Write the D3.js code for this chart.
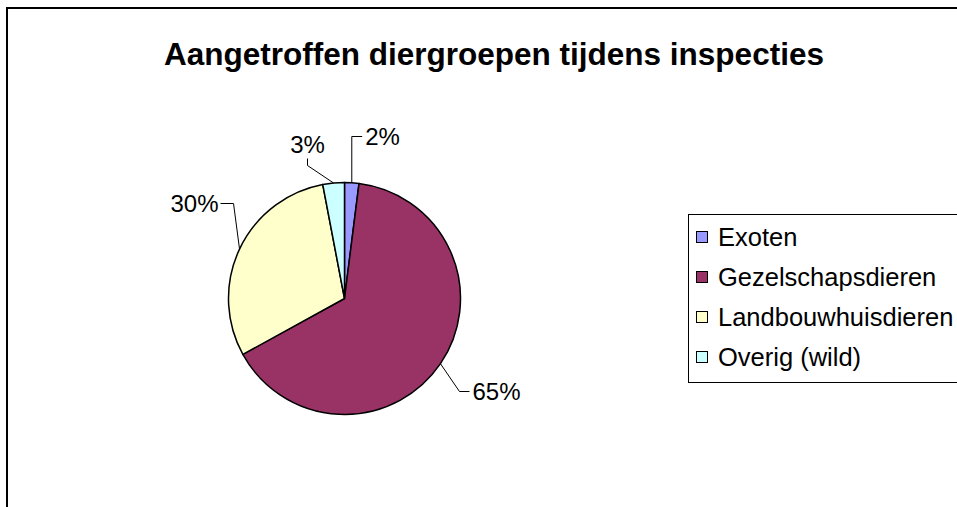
<!DOCTYPE html>
<html>
<head>
<meta charset="utf-8">
<script src="https://cdn.jsdelivr.net/npm/d3@7"></script>
<style>
  html, body { margin: 0; padding: 0; background: #fff; }
  svg text { font-family: "Liberation Sans", Arial, sans-serif; }
</style>
</head>
<body>
<div id="chart-area"></div>
<script>
// chart data
const title = "Aangetroffen diergroepen tijdens inspecties";
const categories = ["Exoten", "Gezelschapsdieren", "Landbouwhuisdieren", "Overig (wild)"];
const shares = [2, 65, 30, 3];
const colors = ["#9999FF", "#993366", "#FFFFCC", "#CCFFFF"];

// where Excel put each data label (offset from pie centre) and where the leader attaches
const labelLayout = [
    { dx: 38, dy: -162, attach: "left" },
    { dx: 152, dy: 93, attach: "left" },
    { dx: -150, dy: -95, attach: "right" },
    { dx: -37, dy: -154, attach: "bottom" }
];

const width = 957,
    height = 507,
    cx = 344.5,
    cy = 298.5,
    radius = 116;

const svg = d3.select("#chart-area")
    .append("svg")
    .attr("width", width)
    .attr("height", height);

// chart frame (right and bottom edges run off the page)
svg.append("rect")
    .attr("x", 7)
    .attr("y", 8)
    .attr("width", width + 20)
    .attr("height", height + 20)
    .attr("fill", "#fff")
    .attr("stroke", "#000")
    .attr("stroke-width", 2);

svg.append("text")
    .attr("x", 494)
    .attr("y", 65)
    .attr("text-anchor", "middle")
    .attr("font-size", 31.5)
    .attr("font-weight", "bold")
    .text(title);

const data = categories.map((c, i) => ({ name: c, value: shares[i], color: colors[i], i }));

const pie = d3.pie().sort(null).value(d => d.value);
const arcs = pie(data);
const arc = d3.arc().innerRadius(0).outerRadius(radius);
const pct = d3.format(".0%");
const total = d3.sum(shares);

const g = svg.append("g").attr("transform", `translate(${cx},${cy})`);

g.selectAll("path")
    .data(arcs)
    .join("path")
    .attr("d", arc)
    .attr("fill", d => d.data.color)
    .attr("stroke", "#000")
    .attr("stroke-width", 1.5)
    .attr("stroke-linejoin", "round");

const fontSize = 24;
const labels = g.selectAll("g.lbl")
    .data(arcs)
    .join("g")
    .attr("class", "lbl");

labels.each(function(d) {
    const lay = labelLayout[d.data.i];
    const txt = pct(d.data.value / total);
    const sel = d3.select(this);
    const t = sel.append("text")
        .attr("x", lay.dx)
        .attr("y", lay.dy)
        .attr("text-anchor", "middle")
        .attr("dominant-baseline", "central")
        .attr("font-size", fontSize)
        .text(txt);
    const w = t.node().getComputedTextLength();

    const mid = (d.startAngle + d.endAngle) / 2;
    const edge = [radius * Math.sin(mid), -radius * Math.cos(mid)];
    let end, elbow;
    if (lay.attach === "left") {
        end = [lay.dx - w / 2 - 3, lay.dy];
        elbow = [end[0] - 10, end[1]];
        if (Math.abs(edge[0] - end[0]) < 15) elbow = [edge[0], end[1]];
    } else if (lay.attach === "right") {
        end = [lay.dx + w / 2 + 2, lay.dy];
        elbow = [end[0] + 13, end[1]];
    } else {
        end = [lay.dx, lay.dy + 14];
        elbow = [end[0], end[1] + 7];
    }
    sel.append("polyline")
        .attr("points", [edge, elbow, end].map(p => p.join(",")).join(" "))
        .attr("fill", "none")
        .attr("stroke", "#000")
        .attr("stroke-width", 1);
});

// legend
const legend = svg.append("g");
legend.append("rect")
    .attr("x", 688.5)
    .attr("y", 214.5)
    .attr("width", 300)
    .attr("height", 168)
    .attr("fill", "#fff")
    .attr("stroke", "#000")
    .attr("stroke-width", 1);

const ly = d3.scalePoint().domain(categories).range([237, 357]);

const items = legend.selectAll("g.item")
    .data(data)
    .join("g")
    .attr("class", "item")
    .attr("transform", d => `translate(0,${ly(d.name)})`);

items.append("rect")
    .attr("x", 696.5)
    .attr("y", -5.5)
    .attr("width", 11)
    .attr("height", 11)
    .attr("fill", d => d.color)
    .attr("stroke", "#000")
    .attr("stroke-width", 1);

items.append("text")
    .attr("x", 718)
    .attr("y", 0)
    .attr("dominant-baseline", "central")
    .attr("font-size", 25.5)
    .text(d => d.name);
</script>
</body>
</html>
